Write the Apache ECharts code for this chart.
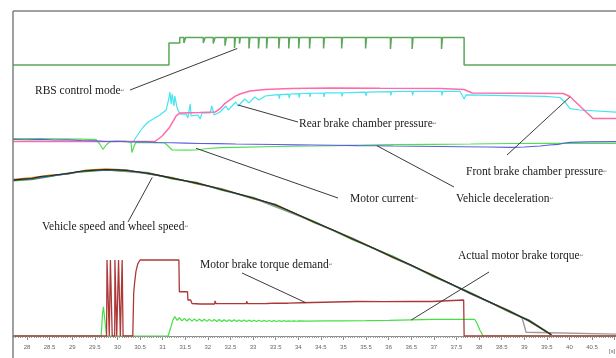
<!DOCTYPE html>
<html>
<head>
<meta charset="utf-8">
<script src="https://cdn.jsdelivr.net/npm/echarts@6/dist/echarts.min.js"></script>
<style>
  html, body { margin: 0; padding: 0; background: #fff; overflow: hidden; }
  /* the trace area runs on past the right edge of the window */
  #chart { width: 640px; height: 358px; }
</style>
</head>
<body>
<div id="chart"></div>
<script>
// ---- time axis (s) ----
const timeStart = 27.69;
const timeEnd = 41.03;      // last recorded sample shown
const tickLabels = [28, 28.5, 29, 29.5, 30, 30.5, 31, 31.5, 32, 32.5, 33, 33.5, 34,
  34.5, 35, 35.5, 36, 36.5, 37, 37.5, 38, 38.5, 39, 39.5, 40, 40.5];

// ---- RBS control mode (0 = off, 1 = regenerative braking active) ----
const rbsOn = [31.14, 31.38, 37.67];          // enter (partial), full, exit
const rbsDips = [                              // [time, level, duration]
  [31.47, 0.8, 0.04], [31.90, 0.8, 0.04], [32.12, 0.78, 0.04], [32.38, 0.7, 0.03],
  [32.59, 0.62, 0.02], [32.70, 0.78, 0.02], [32.91, 0.6, 0.02], [33.12, 0.6, 0.02],
  [33.30, 0.6, 0.02], [33.57, 0.6, 0.02], [33.79, 0.6, 0.02], [34.01, 0.6, 0.02],
  [34.25, 0.6, 0.02], [34.56, 0.6, 0.02], [34.96, 0.6, 0.02], [35.49, 0.6, 0.02],
  [36.04, 0.58, 0.02], [36.52, 0.58, 0.02], [37.17, 0.58, 0.02]
];

// ---- brake chamber pressures (bar) ----
const frontPressure = [
  [27.69, 0], [30.83, 0], [30.99, 0.52], [31.16, 1.37], [31.30, 2.41], [31.38, 2.69],
  [31.83, 2.74], [32.16, 2.78], [32.27, 3.1], [32.38, 3.6], [32.49, 3.92], [32.60, 4.25],
  [32.71, 4.48], [32.93, 4.76], [33.27, 4.91], [33.82, 5.0], [34.70, 5.05], [35.81, 5.02],
  [37.14, 5.0], [37.67, 4.91], [37.85, 4.58], [39.86, 4.53], [40.01, 4.25], [40.52, 2.17],
  [41.03, 2.17]
];
const rearPressure = [
  [27.69, 0], [30.35, 0], [30.46, 0.71], [30.57, 1.37], [30.68, 1.84], [30.79, 2.12],
  [30.94, 2.5], [31.08, 2.97], [31.14, 4.10], [31.16, 4.67], [31.19, 3.54], [31.21, 4.48],
  [31.25, 3.35], [31.27, 4.29], [31.32, 3.16], [31.38, 2.59], [31.52, 2.59], [31.56, 2.22],
  [31.61, 3.54], [31.63, 2.41], [31.78, 2.5], [31.83, 2.12], [31.87, 2.69], [32.05, 2.69],
  [32.09, 3.35], [32.14, 2.5], [32.27, 2.78], [32.40, 3.35], [32.45, 2.97], [32.62, 3.73],
  [32.67, 3.35], [32.82, 4.01], [32.91, 3.64], [33.04, 4.20], [33.13, 3.92], [33.27, 4.29],
  [33.49, 4.39], [33.57, 4.42], [33.58, 4.05], [33.60, 4.42], [33.79, 4.46], [33.80, 4.1],
  [33.82, 4.48], [34.01, 4.52], [34.02, 4.15], [34.04, 4.53], [34.25, 4.55], [34.26, 4.2],
  [34.28, 4.55], [34.56, 4.57], [34.57, 4.2], [34.59, 4.58], [34.96, 4.6], [34.97, 4.25],
  [34.99, 4.6], [35.15, 4.62], [35.49, 4.65], [35.50, 4.3], [35.52, 4.66], [36.04, 4.7],
  [36.05, 4.35], [36.07, 4.7], [36.25, 4.72], [36.52, 4.72], [36.53, 4.35], [36.55, 4.72],
  [37.17, 4.72], [37.18, 4.35], [37.20, 4.72], [37.58, 4.72], [37.67, 4.01], [37.71, 4.39],
  [39.46, 4.25], [39.79, 4.15], [39.90, 3.73], [40.01, 3.11], [40.23, 2.97], [41.03, 2.78]
];

// ---- motor current (A) ----
const motorCurrent = [
  [27.69, 0], [28.2, -2], [28.7, -4], [29.2, -6], [29.53, -12], [29.6, -50], [29.68, -108],
  [29.76, -60], [29.84, -32], [30.0, -28], [30.17, -25], [30.30, -35], [30.32, -140],
  [30.35, -100], [30.38, -65], [30.41, -40], [30.7, -42], [31.05, -45], [31.12, -75],
  [31.21, -115], [31.5, -116], [31.74, -115], [32.0, -100], [32.3, -92], [32.62, -88],
  [33.5, -80], [34.35, -75], [35.2, -68], [36.1, -62], [37.0, -58], [37.82, -55],
  [38.7, -50], [39.57, -48], [41.03, -48]
];

// ---- vehicle deceleration (m/s^2) ----
const vehicleDecel = [
  [27.69, 0.4], [28.0, 0.35], [28.3, 0.42], [28.6, 0.3], [28.9, 0.33], [29.2, 0.2],
  [29.5, 0.12], [29.75, 0.0], [30.0, 0.05], [30.28, -0.1], [30.6, -0.08], [30.88, -0.2],
  [31.2, -0.25], [31.5, -0.32], [31.83, -0.4], [32.2, -0.42], [32.62, -0.5], [33.0, -0.55],
  [33.5, -0.6], [34.0, -0.66], [34.35, -0.7], [34.8, -0.75], [35.3, -0.82], [35.7, -0.85],
  [36.1, -0.9], [36.6, -0.95], [37.1, -1.0], [37.6, -1.05], [38.2, -1.1], [38.71, -1.16],
  [39.0, -1.1], [39.35, -0.9], [39.55, -0.7], [39.75, -0.56], [39.9, -0.3], [40.01, -0.16],
  [40.4, -0.08], [41.03, -0.04]
];

// ---- vehicle speed and wheel speeds (km/h) ----
const vehicleSpeed = [
  [27.69, 46.8], [27.9, 47.1], [28.1, 47.3], [28.3, 47.9], [28.5, 48.1], [28.7, 48.5],
  [28.9, 48.8], [29.1, 49.3], [29.3, 49.6], [29.5, 49.8], [29.75, 50.0], [30.0, 49.9],
  [30.2, 49.7], [30.45, 49.3], [30.7, 48.8], [30.9, 48.3], [31.2, 47.4], [31.5, 46.6],
  [31.75, 45.9], [32.0, 45.1], [32.3, 44.0], [32.6, 42.9], [33.0, 41.4], [33.5, 39.3],
  [33.9, 37.0], [34.35, 34.2], [34.8, 31.6], [35.2, 29.1], [35.6, 26.7], [36.1, 23.6],
  [36.5, 21.2], [36.95, 18.2], [37.4, 15.4], [37.8, 12.8], [38.2, 10.3], [38.7, 7.1],
  [39.1, 4.5], [39.6, 0.2]
];
const wheelSpeedFL = [
  [27.69, 47.0], [28.1, 47.5], [28.5, 48.3], [28.9, 48.6], [29.3, 49.8], [29.75, 50.2],
  [30.2, 49.9], [30.7, 48.6], [31.2, 47.6], [31.75, 45.7], [32.3, 44.2], [33.0, 41.2],
  [33.5, 39.5], [34.35, 34.0], [35.2, 29.3], [36.1, 23.4], [36.95, 18.4], [37.8, 12.6],
  [38.7, 7.3], [39.1, 4.3], [39.6, 0.2]
];
const wheelSpeedFR = [
  [27.69, 46.6], [28.1, 47.0], [28.5, 47.9], [28.9, 48.9], [29.3, 49.4], [29.75, 49.8],
  [30.2, 49.5], [30.7, 49.0], [31.2, 47.2], [31.75, 46.1], [32.3, 43.8], [33.0, 41.6],
  [33.5, 39.1], [34.35, 34.4], [35.2, 28.9], [36.1, 23.8], [36.95, 18.0], [37.8, 13.0],
  [38.7, 6.9], [39.1, 4.7], [39.6, 0.3]
];
const wheelSpeedRL = [
  [27.69, 46.9], [28.1, 47.2], [28.5, 48.0], [28.9, 48.7], [29.3, 49.7], [29.75, 49.9],
  [30.2, 49.8], [30.7, 48.7], [31.2, 47.5], [31.75, 45.8], [32.3, 44.1], [33.0, 41.3],
  [33.5, 39.4], [34.35, 34.1], [35.2, 29.2], [36.1, 23.5], [36.95, 18.3], [37.8, 12.7],
  [38.7, 7.2], [39.1, 4.4], [39.6, 0.2]
];
const wheelSpeedRR = [
  [27.69, 46.7], [28.5, 48.0], [29.3, 49.5], [29.75, 49.9], [30.7, 48.8], [31.75, 45.9],
  [33.0, 41.4], [34.35, 34.2], [35.2, 29.1], [36.1, 23.6], [36.95, 18.2], [37.8, 12.8],
  [38.7, 7.0], [38.95, 5.3], [39.0, 3.0], [39.04, 1.0], [39.08, 0.4], [41.03, 0.4]
];

// ---- motor brake torque (N·m) ----
const torqueDemand = [
  [27.69, 0], [29.76, 0], [29.77, 800], [29.81, 800], [29.82, 0], [29.84, 0], [29.845, 800],
  [29.88, 800], [29.885, 0], [29.94, 0], [29.945, 800], [29.98, 800], [29.985, 0],
  [30.02, 0], [30.025, 800], [30.06, 800], [30.065, 0], [30.10, 0], [30.105, 800],
  [30.12, 800], [30.125, 0], [30.34, 0], [30.36, 450], [30.38, 560], [30.41, 680],
  [30.45, 760], [30.50, 800], [31.36, 800], [31.37, 466], [31.55, 466], [31.56, 379],
  [31.62, 379], [31.65, 342], [31.83, 337], [32.15, 337], [32.16, 370], [32.18, 342],
  [32.5, 340], [32.85, 342], [32.86, 365], [32.88, 340], [33.3, 342], [33.5, 345],
  [33.78, 345], [33.79, 365], [33.81, 350], [34.08, 350], [34.1, 361], [34.8, 358],
  [35.3, 363], [35.9, 361], [36.5, 363], [36.96, 363], [36.98, 379], [37.66, 379],
  [37.67, 0], [41.03, 0]
];
const torqueActual = [
  [27.69, 0], [29.64, 0], [29.67, 230], [29.69, 308], [29.72, 180], [29.76, 0], [31.12, 0],
  [31.18, 90], [31.23, 170], [31.27, 205], [31.32, 165], [31.37, 192], [31.43, 160],
  [31.48, 186], [31.54, 158], [31.59, 183], [31.65, 157], [31.70, 180], [31.76, 156],
  [31.81, 178], [31.87, 155], [31.92, 176], [31.98, 154], [32.03, 175], [32.09, 154],
  [32.14, 174], [32.20, 153], [32.25, 173], [32.31, 153], [32.36, 172], [32.42, 153],
  [32.47, 171], [32.53, 152], [32.58, 170], [32.64, 152], [32.69, 169], [32.75, 152],
  [32.80, 168], [32.86, 152], [32.91, 167], [32.97, 152], [33.02, 166], [33.08, 152],
  [33.13, 165], [33.19, 152], [33.24, 164], [33.30, 153], [33.35, 163], [33.41, 153],
  [33.46, 162], [33.52, 153], [33.57, 161], [33.63, 154], [33.68, 161], [33.74, 154],
  [33.79, 160], [33.85, 155], [33.90, 160], [33.96, 155], [34.01, 160], [34.2, 157],
  [34.6, 159], [35.0, 160], [35.5, 162], [36.0, 165], [36.5, 170], [37.0, 174],
  [37.5, 176], [37.90, 176], [37.95, 140], [38.02, 60], [38.09, 0], [41.03, 0]
];

// ---- annotation labels: text, text position, anchor series axis, anchor [t, value] ----
const annotations = [
  { text: 'RBS control mode', x: 35, y: 91, from: [130, 90], axis: 0, at: [32.65, 0.6] },
  { text: 'Rear brake chamber pressure', x: 299, y: 124, from: [298, 122], axis: 1, at: [32.67, 3.44] },
  { text: 'Front brake chamber pressure', x: 466, y: 172, from: [507, 155], axis: 1, at: [40.01, 4.2] },
  { text: 'Motor current', x: 350, y: 199, from: [338, 198], axis: 2, at: [31.74, -98] },
  { text: 'Vehicle deceleration', x: 456, y: 199, from: [454, 187], axis: 3, at: [35.74, -0.84] },
  { text: 'Vehicle speed and wheel speed', x: 42, y: 227, from: [128, 222], axis: 4, at: [30.77, 47.6] },
  { text: 'Motor brake torque demand', x: 200, y: 265, from: [242, 273], axis: 5, at: [34.17, 350] },
  { text: 'Actual motor brake torque', x: 458, y: 256, from: [489, 272], axis: 5, at: [36.5, 168] }
];

// ---- build the RBS step trace ----
const rbsMode = [[timeStart, 0], [rbsOn[0], 0], [rbsOn[0], 0.8], [rbsOn[1], 0.8], [rbsOn[1], 1]];
rbsDips.forEach(([t, lvl, w]) => {
  rbsMode.push([t, 1], [t, lvl], [t + w, lvl], [t + w, 1]);
});
rbsMode.push([rbsOn[2], 1], [rbsOn[2], 0], [timeEnd, 0]);

// ---- layout ----
const PLOT_LEFT = 13, PLOT_TOP = 11, PLOT_BOTTOM = 336, W = 616, H = 358;
const CANVAS_W = 640;
const PX_PER_S = (W - PLOT_LEFT) / (timeEnd - timeStart);
const axisMax = timeStart + (CANVAS_W - PLOT_LEFT) / PX_PER_S;

// hidden value axis whose v0 sits at pixel p0 and v1 at pixel p1
function bandAxis(v0, p0, v1, p1) {
  const k = (p0 - p1) / (v1 - v0);
  return {
    type: 'value', gridIndex: 0, show: false, position: 'left', offset: 0,
    min: v0 - (PLOT_BOTTOM - p0) / k,
    max: v1 + (p1 - PLOT_TOP) / k,
    axisLine: { show: false }, axisTick: { show: false }, axisLabel: { show: false },
    splitLine: { show: false }
  };
}
const majorTicks = tickLabels.concat([41]);
const minorTicks = [];
for (let i = 0; i <= 270; i++) {
  const v = Math.round((27.7 + i * 0.05) * 100) / 100;
  if (v <= timeEnd) minorTicks.push(v);
}

const chart = echarts.init(document.getElementById('chart'), null, { renderer: 'canvas' });

function line(name, data, yAxisIndex, color, width, z) {
  return {
    name, type: 'line', data, xAxisIndex: 0, yAxisIndex,
    showSymbol: false, symbol: 'none', clip: true, z: z || 2,
    lineStyle: { color, width }, animation: false
  };
}

// frame around the trace area (open on the right and bottom)
const frame = [
  { type: 'line', silent: true, z: 20,
    shape: { x1: PLOT_LEFT, y1: PLOT_TOP, x2: CANVAS_W, y2: PLOT_TOP },
    style: { stroke: '#808080', lineWidth: 1.5 } },
  { type: 'line', silent: true, z: 20,
    shape: { x1: PLOT_LEFT, y1: PLOT_TOP, x2: PLOT_LEFT, y2: H + 2 },
    style: { stroke: '#808080', lineWidth: 1.5 } },
  { type: 'text', left: 609, top: 348, silent: true,
    style: { text: '[s]', fontSize: 6, fill: '#666', fontFamily: 'Liberation Sans' } }
];

chart.setOption({
  animation: false,
  backgroundColor: '#ffffff',
  grid: [
    { left: PLOT_LEFT, top: PLOT_TOP, right: 0, bottom: H - PLOT_BOTTOM, show: false,
      borderWidth: 0 }
  ],
  xAxis: [
    {
      type: 'value', gridIndex: 0, min: timeStart, max: axisMax, position: 'bottom',
      axisLine: { show: true, onZero: false, lineStyle: { color: '#8a8a8a', width: 1 } },
      axisTick: { show: true, customValues: majorTicks, length: 4,
        lineStyle: { color: '#8a8a8a', width: 1 } },
      axisLabel: { show: true, customValues: tickLabels, fontSize: 6, color: '#666',
        fontFamily: 'Liberation Sans', margin: 8, formatter: v => String(v) },
      splitLine: { show: false }, minorSplitLine: { show: false }
    },
    {
      type: 'value', gridIndex: 0, min: timeStart, max: axisMax, position: 'bottom',
      axisLine: { show: false, onZero: false },
      axisTick: { show: true, customValues: minorTicks, length: 2,
        lineStyle: { color: '#9a9a9a', width: 1 } },
      axisLabel: { show: false }, splitLine: { show: false }, minorSplitLine: { show: false }
    }
  ],
  yAxis: [
    bandAxis(0, 65, 1, 37.5),          // 0: RBS control mode
    bandAxis(0, 141.5, 5, 88.5),       // 1: chamber pressure, bar
    bandAxis(0, 138.5, -100, 148.5),   // 2: motor current, A
    bandAxis(0, 141.5, -1, 146.5),     // 3: deceleration, m/s^2
    bandAxis(0, 335.5, 50, 169.5),     // 4: speed, km/h
    bandAxis(0, 336, 800, 260)         // 5: motor torque, N·m
  ],
  series: [
    line('RBS control mode', rbsMode, 0, '#5aa85a', 1.5),
    line('Rear brake chamber pressure', rearPressure, 1, '#45e4f2', 1.2),
    line('Front brake chamber pressure', frontPressure, 1, '#ff6aa8', 1.5),
    line('Motor current', motorCurrent, 2, '#4fe04f', 1.2),
    line('Vehicle deceleration', vehicleDecel, 3, '#5c5ce8', 1.2),
    line('Wheel speed RR', wheelSpeedRR, 4, '#9a9a9a', 1.4),
    line('Wheel speed FL', wheelSpeedFL, 4, '#e8841a', 1.4),
    line('Wheel speed FR', wheelSpeedFR, 4, '#46a83a', 1.4),
    line('Wheel speed RL', wheelSpeedRL, 4, '#3a66d6', 1.2),
    line('Vehicle speed', vehicleSpeed, 4, '#2e2a12', 1.1, 3),
    line('Actual motor brake torque', torqueActual, 5, '#44e044', 1.2),
    line('Motor brake torque demand', torqueDemand, 5, '#ad3838', 1.3, 3)
  ]
});

// leader lines and labels, anchored on the traces they describe
const annotationGraphics = [];
annotations.forEach(a => {
  const p = chart.convertToPixel({ xAxisIndex: 0, yAxisIndex: a.axis }, a.at);
  annotationGraphics.push({
    type: 'line', silent: true, z: 10,
    shape: { x1: a.from[0], y1: a.from[1], x2: p[0], y2: p[1] },
    style: { stroke: '#3a3a3a', lineWidth: 1 }
  });
  annotationGraphics.push({
    type: 'text', silent: true, z: 10, x: a.x, y: a.y,
    style: {
      text: '{t|' + a.text + '}{m|\u21B5}',
      verticalAlign: 'middle', align: 'left',
      rich: {
        t: { fontFamily: 'Liberation Serif', fontSize: 11.5, fill: '#1a1a1a' },
        m: { fontFamily: 'DejaVu Sans', fontSize: 5, fill: '#888' }
      }
    }
  });
});
chart.setOption({ graphic: frame.concat(annotationGraphics) });
</script>
</body>
</html>
